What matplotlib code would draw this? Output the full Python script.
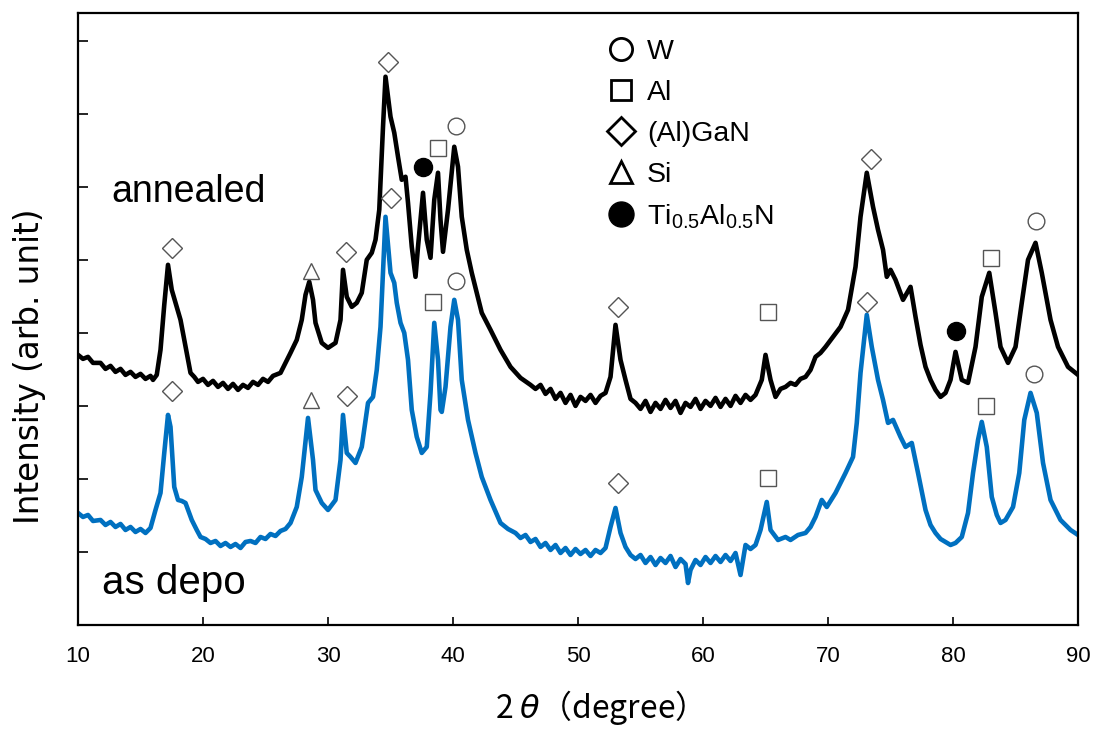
import matplotlib.pyplot as plt
from matplotlib.lines import Line2D

# XRD patterns (2theta in degree, intensity in arb. unit)
annealed_2theta = [
    10.0, 10.4, 10.8, 11.2, 11.8, 12.2, 12.6, 13.0, 13.4, 13.8, 14.2, 14.6, 15.0, 15.4, 15.8, 16.0,
    16.3, 16.6, 16.9, 17.2, 17.5, 17.8, 18.2, 18.5, 18.8, 19.0, 19.3, 19.6, 20.0, 20.4, 20.8, 21.2,
    21.6, 22.0, 22.4, 22.8, 23.2, 23.6, 24.0, 24.4, 24.8, 25.2, 25.6, 26.0, 26.2, 26.6, 27.0, 27.5,
    27.9, 28.2, 28.5, 28.8, 29.0, 29.5, 30.0, 30.6, 31.0, 31.2, 31.5, 31.9, 32.3, 32.7, 33.1, 33.5,
    33.8, 34.1, 34.4, 34.6, 35.0, 35.3, 35.6, 35.9, 36.2, 36.4, 36.7, 37.0, 37.2, 37.6, 37.9, 38.2,
    38.5, 38.8, 39.0, 39.2, 39.6, 40.1, 40.4, 40.7, 41.1, 41.5, 41.9, 42.3, 43.0, 43.8, 44.6, 45.4,
    46.2, 46.6, 47.0, 47.4, 47.8, 48.2, 48.6, 49.0, 49.4, 49.8, 50.2, 50.6, 51.0, 51.4, 51.8, 52.2,
    52.6, 53.0, 53.4, 53.8, 54.2, 54.6, 55.0, 55.4, 55.8, 56.2, 56.6, 57.0, 57.4, 57.8, 58.2, 58.6,
    59.0, 59.4, 59.8, 60.2, 60.6, 61.0, 61.4, 61.8, 62.2, 62.6, 63.0, 63.4, 63.8, 64.2, 64.7, 65.0,
    65.4, 65.8, 66.2, 66.6, 67.0, 67.4, 67.8, 68.2, 68.6, 69.0, 69.4, 69.8, 70.4, 71.0, 71.6, 72.2,
    72.6, 73.1, 73.6, 74.0, 74.4, 74.7, 75.0, 75.4, 76.0, 76.6, 77.0, 77.4, 77.8, 78.2, 78.6, 79.0,
    79.4, 79.8, 80.2, 80.7, 81.2, 81.8, 82.3, 82.9, 83.4, 83.8, 84.4, 85.0, 85.5, 86.0, 86.6, 87.1,
    87.8, 88.4, 89.2, 90.0,
]
annealed_int = [
    270, 266, 268, 262, 262, 256, 259, 253, 256, 250, 253, 248, 251, 246, 249, 245,
    250, 275, 320, 360, 335, 322, 305, 285, 265, 252, 248, 243, 246, 240, 244, 238,
    242, 236, 241, 235, 240, 237, 243, 240, 246, 243, 249, 251, 252, 262, 272, 285,
    305, 330, 343, 325, 302, 282, 277, 282, 305, 355, 328, 318, 322, 332, 365, 372,
    385, 415, 498, 548, 508, 492, 468, 445, 448, 422, 378, 348, 378, 432, 385, 367,
    425, 452, 405, 373, 415, 478, 458, 408, 375, 352, 332, 312, 295, 275, 258, 247,
    240, 236, 240, 231, 236, 226, 232, 222, 230, 219, 228, 224, 230, 222, 229, 232,
    248, 300, 265, 245, 226, 222, 216, 224, 213, 222, 216, 225, 217, 224, 212, 222,
    218, 226, 216, 224, 219, 227, 218, 226, 219, 229, 222, 230, 225, 230, 245, 270,
    245, 228, 236, 238, 242, 240, 246, 248, 255, 268, 272, 278, 288, 298, 315, 358,
    408, 452, 418, 395, 375, 348, 355, 345, 325, 338, 308, 280, 258, 245, 235, 228,
    232, 245, 273, 245, 242, 278, 328, 352, 312, 278, 262, 278, 322, 365, 382, 352,
    305, 278, 258, 250,
]

asdepo_2theta = [
    10.0, 10.4, 10.8, 11.2, 11.8, 12.2, 12.6, 13.0, 13.4, 13.8, 14.2, 14.6, 15.0, 15.4, 15.8, 16.2,
    16.6, 16.9, 17.2, 17.4, 17.7, 18.0, 18.3, 18.6, 19.1, 19.5, 19.8, 20.2, 20.6, 21.0, 21.4, 21.8,
    22.2, 22.6, 23.0, 23.4, 23.8, 24.2, 24.6, 25.0, 25.4, 25.8, 26.2, 26.6, 27.0, 27.5, 27.9, 28.4,
    28.8, 29.0, 29.5, 30.0, 30.6, 31.0, 31.2, 31.5, 31.8, 32.2, 32.7, 33.2, 33.6, 33.9, 34.2, 34.6,
    35.0, 35.3, 35.5, 35.8, 36.1, 36.4, 36.7, 37.1, 37.5, 37.9, 38.2, 38.5, 38.8, 39.0, 39.1, 39.4,
    39.8, 40.1, 40.4, 40.7, 41.2, 41.8, 42.3, 43.0, 43.8, 44.4, 45.0, 45.4, 45.8, 46.2, 46.6, 47.0,
    47.4, 47.8, 48.2, 48.6, 49.0, 49.4, 49.8, 50.2, 50.6, 51.0, 51.4, 51.8, 52.2, 52.6, 53.0, 53.4,
    53.8, 54.2, 54.6, 55.0, 55.4, 55.8, 56.2, 56.6, 57.0, 57.4, 57.8, 58.2, 58.6, 58.8, 59.0, 59.4,
    59.8, 60.2, 60.6, 61.0, 61.4, 61.8, 62.2, 62.6, 63.0, 63.4, 63.8, 64.2, 64.6, 65.1, 65.4, 66.0,
    66.6, 67.0, 67.6, 68.2, 68.6, 69.0, 69.5, 69.9, 70.6, 71.4, 72.0, 72.3, 72.6, 73.1, 73.5, 74.0,
    74.4, 74.8, 75.2, 75.8, 76.2, 76.7, 77.2, 77.8, 78.2, 78.6, 79.0, 79.4, 79.8, 80.2, 80.7, 81.2,
    81.6, 82.0, 82.3, 82.7, 83.1, 83.5, 83.8, 84.2, 84.8, 85.3, 85.7, 86.2, 86.7, 87.2, 87.8, 88.6,
    89.4, 90.0,
]
asdepo_int = [
    112, 108, 110, 104, 105, 100, 103, 98, 101, 95, 98, 93, 96, 92, 97, 115,
    132, 172, 210, 198, 138, 125, 124, 122, 105, 95, 88, 86, 82, 84, 79, 82,
    78, 81, 77, 83, 84, 82, 88, 86, 91, 89, 94, 96, 102, 118, 148, 207,
    165, 135, 122, 115, 125, 165, 210, 172, 168, 162, 178, 222, 228, 255, 298, 408,
    352, 342, 322, 302, 292, 265, 215, 188, 172, 178, 232, 302, 265, 215, 213, 238,
    298, 325, 305, 245, 205, 172, 148, 125, 102, 96, 92, 87, 90, 83, 86, 78,
    82, 75, 80, 72, 77, 70, 76, 71, 75, 69, 75, 72, 77, 98, 117, 92,
    78, 70, 66, 70, 62, 68, 60, 67, 62, 69, 58, 66, 61, 42, 55, 65,
    60, 68, 62, 69, 63, 70, 64, 72, 50, 80, 76, 80, 95, 123, 95, 85,
    88, 85, 90, 92, 98, 108, 125, 118, 132, 152, 168, 202, 252, 310, 278, 245,
    225, 202, 205, 188, 178, 182, 152, 115, 100, 92, 86, 83, 80, 82, 88, 112,
    152, 185, 203, 178, 128, 110, 102, 105, 118, 152, 205, 232, 212, 162, 125, 105,
    95, 90,
]

# phase markers (both patterns)
w_x = [40.2, 86.6, 40.2, 86.5]
w_y = [499, 404, 344, 251]
al_x = [38.8, 65.2, 83.0, 38.4, 65.2, 82.6]
al_y = [477, 313, 367, 323, 147, 219]
gan_x = [17.5, 31.4, 34.8, 53.2, 73.4, 17.5, 31.5, 35.0, 53.2, 73.1]
gan_y = [377, 373, 563, 318, 466, 234, 229, 427, 142, 323]
si_x = [28.6, 28.6]
si_y = [354, 225]
tialn_x = [37.6, 80.2]
tialn_y = [458, 294]

plt.rcParams['font.family'] = ['Liberation Sans', 'DejaVu Sans']
plt.rcParams['mathtext.default'] = 'regular'

fig = plt.figure(figsize=(10.94, 7.33), dpi=100)
ax = fig.add_axes([0.0713, 0.1473, 0.9141, 0.8354])

ax.plot(asdepo_2theta, asdepo_int, color='#0070C0', lw=3.3, solid_joinstyle='round')
ax.plot(annealed_2theta, annealed_int, color='black', lw=3.3, solid_joinstyle='round')

grey = '#555555'
ax.plot(w_x, w_y, 'o', ms=12, mfc='white', mec=grey, mew=1, ls='none')
ax.plot(al_x, al_y, 's', ms=11, mfc='white', mec=grey, mew=1, ls='none')
ax.plot(gan_x, gan_y, 'D', ms=10.5, mfc='white', mec=grey, mew=1, ls='none')
ax.plot(si_x, si_y, '^', ms=12, mfc='white', mec=grey, mew=1, ls='none')
ax.plot(tialn_x, tialn_y, 'o', ms=13, mfc='black', mec='black', ls='none')

ax.text(12.7, 433, 'annealed', fontsize=27, va='center')
ax.text(11.9, 42, 'as depo', fontsize=29, va='center')

handles = [
    Line2D([], [], marker='o', ms=16, mfc='white', mec='black', mew=2, ls='none'),
    Line2D([], [], marker='s', ms=15, mfc='white', mec='black', mew=2, ls='none'),
    Line2D([], [], marker='D', ms=14, mfc='white', mec='black', mew=2, ls='none'),
    Line2D([], [], marker='^', ms=16, mfc='white', mec='black', mew=2, ls='none'),
    Line2D([], [], marker='o', ms=18, mfc='black', mec='black', ls='none'),
]
labels = ['W', 'Al', '(Al)GaN', 'Si', 'Ti$_{0.5}$Al$_{0.5}$N']
ax.legend(handles, labels, loc='upper left', bbox_to_anchor=(0.515, 0.98), frameon=False,
          fontsize=20.5, handlelength=1.0, handletextpad=0.4, labelspacing=0.52, borderpad=0)

ax.set_xlim(10, 90)
ax.set_ylim(0, 612)
ax.set_xticks(range(10, 91, 10))
ax.set_yticks(range(73, 612, 73))
ax.tick_params(axis='y', labelleft=False, direction='in', length=7, width=1.2)
ax.tick_params(axis='x', direction='in', length=6, width=1.2, labelsize=16, pad=15)
for s in ax.spines.values():
    s.set_linewidth(1.6)

ax.set_xlabel('2 $\\it{\\theta}$（degree）', fontsize=23, family=['Noto Sans CJK JP', 'DejaVu Sans'])
ax.xaxis.set_label_coords(0.513, -0.103)
ax.set_ylabel('Intensity (arb. unit)', fontsize=23.5, family=['DejaVu Sans'])
ax.yaxis.set_label_coords(-0.032, 0.423)

fig.savefig('out.png', dpi=100)
